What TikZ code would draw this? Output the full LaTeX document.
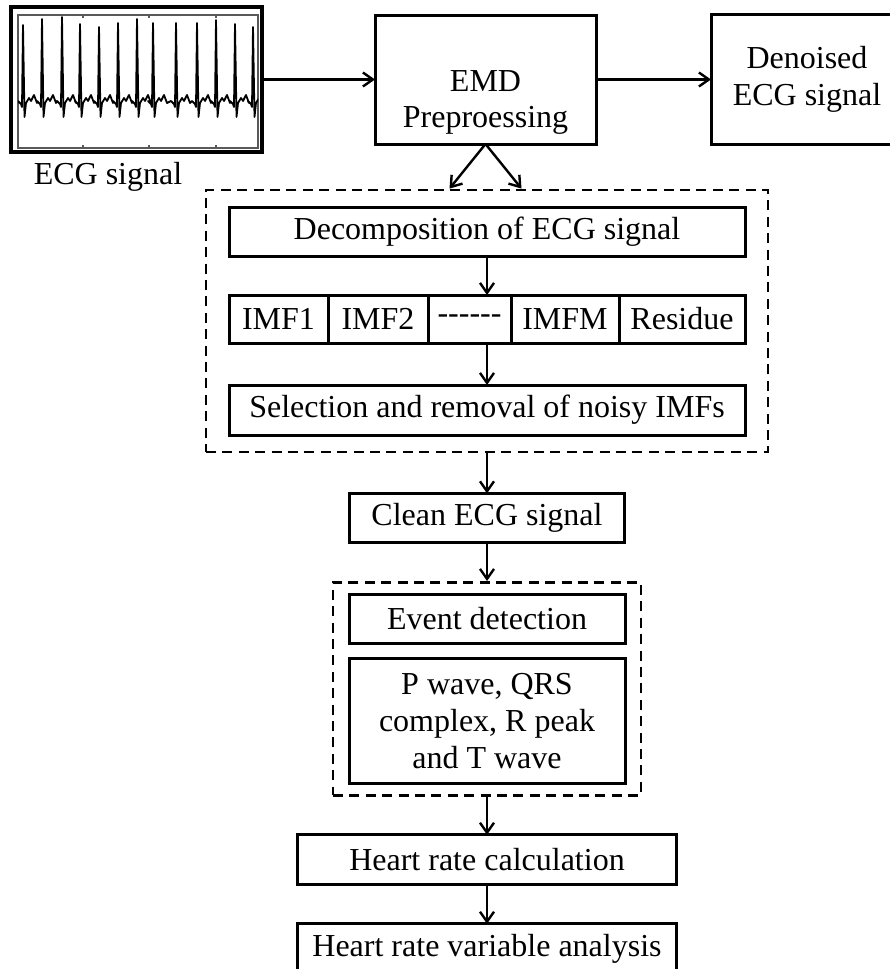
\documentclass[tikz,border=0pt]{standalone}
\usepackage{fontspec}
\setmainfont{Liberation Serif}
\usepackage{tikz}
\usetikzlibrary{arrows.meta,positioning,calc,fit}
\newcommand{\dashcell}{-\kern0pt-\kern0pt-\kern0pt-\kern0pt-\kern0pt-}

\begin{document}
\begin{tikzpicture}[x=0.5pt,y=-0.5pt,
        box/.style={draw,line width=1.5pt,outer sep=0pt,minimum height=24.5pt,align=center,font=\fontsize{16}{18.5}\selectfont},
        cell/.style={box,minimum height=24pt},
        dashbox/.style={draw,line width=1.4pt,dash pattern=on 5pt off 3.2pt},
        txt/.style={align=center,font=\fontsize{16}{18}\selectfont},
        ecgline/.style={line width=0.9pt,line join=round},
        arrow/.style={-{Straight Barb[length=5pt,width=7pt,line width=1.2pt]},line width=1.2pt}
      ]
        \useasboundingbox (0,0) rectangle (889,969);
        % ECG strip
        \node[draw,line width=2pt,minimum width=125.5pt,minimum height=72.5pt] (ecg) at (136.5,79.5) {};
        \draw[line width=0.9pt,black!65] (18,15) rectangle (258,148);
        \foreach \t in {83,149,216} {\draw[black!65,line width=0.6pt] (\t,15) -- (\t,18) (\t,148) -- (\t,145);}
        \begin{scope}
          \clip (18,15) rectangle (258,148);
          \draw[ecgline] (19,103) \foreach \c/\p in {23/25,42/19,62/17,80/24,99/27,118/23,137/19,153/23,176/23,197/23,216/20,235/24,253/27} {
            -- (\c-5,101) -- (\c-2,104) -- (\c-1,107) -- (\c,\p) -- (\c+1.5,117) -- (\c+3,103) -- (\c+6,98) -- (\c+8,101) -- (\c+11,95) -- (\c+14,103)};
        \end{scope}
        \node[txt] (ecglbl) at (108,177) {ECG signal};
        % top row
        \node[box,minimum width=110.5pt,minimum height=64.5pt,right=55.5pt of ecg] (emd) {};
        \node[txt] (emdtxt) at ([yshift=-11.5pt]emd.center) {EMD\\Preproessing};
        \node[box,minimum width=96pt,minimum height=65pt,right=57.5pt of emd] (den) {Denoised\\ECG signal};
        % EMD stages
        \node[box,minimum width=258pt] (decomp) at (487,231.5) {Decomposition of ECG signal};
        \node[cell,minimum width=49.5pt,anchor=north west] (imf1) at ([yshift=-19.5pt]decomp.south west) {IMF1};
        \node[cell,minimum width=50pt,right=0pt of imf1] (imf2) {IMF2};
        \node[cell,minimum width=41.5pt,right=0pt of imf2] (imfd) {\dashcell};
        \node[cell,minimum width=54pt,right=0pt of imfd] (imfm) {IMFM};
        \node[cell,minimum width=63pt,right=0pt of imfm] (res) {Residue};
        \node[box,minimum width=258pt,minimum height=25pt,below=64.5pt of decomp] (sel) {Selection and removal of noisy IMFs};
        \node[dashbox,fit=(decomp)(sel),inner xsep=11.5pt,inner ysep=8.5pt] (dash1) {};
        % detection stages
        \node[box,minimum width=137.5pt,below=20pt of dash1] (clean) {Clean ECG signal};
        \node[box,minimum width=138pt,below=26pt of clean] (event) {Event detection};
        \node[box,minimum width=138pt,minimum height=62.5pt,below=7.5pt of event] (wave) {P wave, QRS\\complex, R peak\\and T wave};
        \node[dashbox,fit=(event)(wave),inner xsep=8pt,inner ysep=6pt] (dash2) {};
        \node[box,minimum width=189.5pt,minimum height=25pt,below=19pt of dash2] (hr) {Heart rate calculation};
        \node[box,minimum width=189.5pt,minimum height=25pt,below=19.5pt of hr] (hrv) {Heart rate variable analysis};
        % arrows
        \draw[arrow] (ecg.east) -- (ecg.east -| emd.west);
        \draw[arrow] (emd.east) -- (emd.east -| den.west);
        \draw[arrow] (emd.south) -- ([xshift=-18pt]emd.south |- dash1.north);
        \draw[arrow] (emd.south) -- ([xshift=18pt]emd.south |- dash1.north);
        \draw[arrow] (decomp) -- (decomp.south |- imf1.north);
        \draw[arrow] (decomp.south |- imf1.south) -- (sel);
        \draw[arrow] (dash1) -- (clean);
        \draw[arrow] (clean) -- (dash2);
        \draw[arrow] (dash2) -- (hr);
        \draw[arrow] (hr) -- (hrv);
      \end{tikzpicture}
\end{document}
